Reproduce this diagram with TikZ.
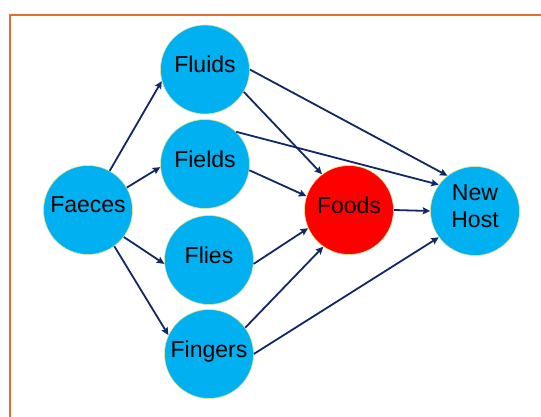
\documentclass[tikz,border=0pt]{standalone}
\usepackage{fontspec}
\setmainfont{Liberation Sans}
\usetikzlibrary{arrows.meta}
\definecolor{bubblue}{RGB}{0,176,240}
\definecolor{bubred}{RGB}{255,0,0}
\definecolor{rimcol}{RGB}{225,235,140}
\definecolor{navy}{RGB}{16,40,100}
\definecolor{framecol}{RGB}{222,110,50}
\tikzset{
  bub/.style={circle, fill=bubblue, draw=rimcol, line width=0.6pt, minimum size=89pt, inner sep=0pt,
    font=\fontsize{23}{27}\selectfont, align=center, text=black, text depth=10pt},
  redbub/.style={bub, fill=bubred},
  conn/.style={draw=navy, line width=1.8pt, -{Stealth[length=7.5pt,width=7pt,inset=1.2pt]}},
}
\begin{document}
\begin{tikzpicture}[x=1pt,y=-1pt]
\useasboundingbox (0,0) rectangle (541,417);
\draw[framecol, line width=2pt] (9.5,430) -- (9.5,15) -- (560,15);
\node[bub] (faeces) at (88,210) {Faeces};
\node[bub] (fluids) at (205,69.5) {Fluids};
\node[bub] (fields) at (205,164) {Fields};
\node[bub] (flies) at (209,260) {Flies};
\node[bub] (fingers) at (209,354) {Fingers};
\node[redbub] (foods) at (349,210) {Foods};
\node[bub] (host) at (475,211) {New\\Host};
\draw[conn] (faeces.61) -- (fluids.195);
\draw[conn] (faeces.30) -- (fields.184);
\draw[conn] (faeces.-37) -- (flies.185);
\draw[conn] (faeces.-54) -- (fingers.155);
\draw[conn] (fluids.0) -- (host.128);
\draw[conn] (fluids.-30) -- (foods.127);
\draw[conn] (fields.46) -- (host.144);
\draw[conn] (fields.-8) -- (foods.162);
\draw[conn] (flies.-5) -- (foods.204);
\draw[conn] (fingers.36) -- (foods.235);
\draw[conn] (fingers.0) -- (host.216);
\draw[conn] (foods.0) -- (host.180);
\end{tikzpicture}
\end{document}
